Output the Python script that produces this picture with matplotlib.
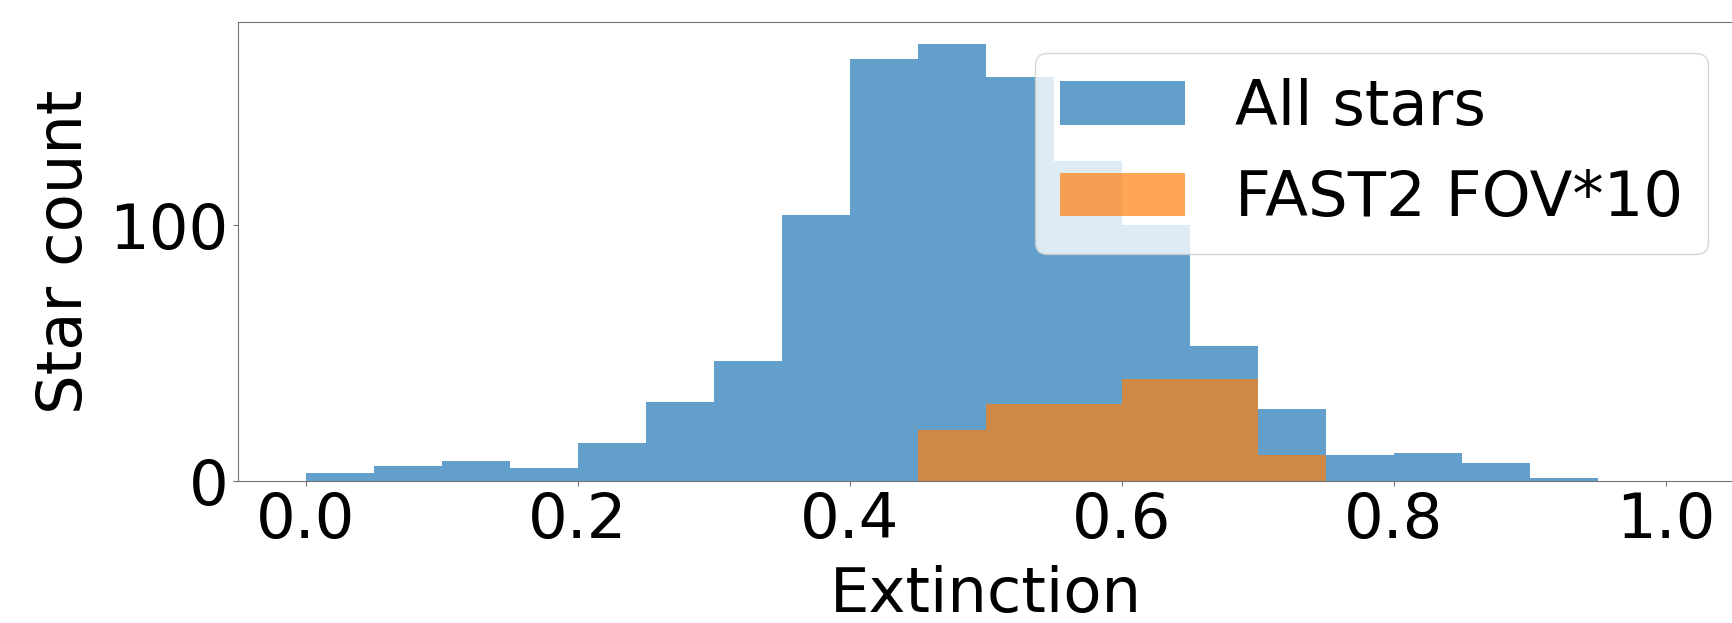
import numpy as np
import matplotlib
matplotlib.use('Agg')
import matplotlib.pyplot as plt

# Histogram bins (width 0.05)
bin_edges = np.round(np.arange(0, 1.0001, 0.05), 2)
bin_left = bin_edges[:-1]

# Counts
all_stars = [3, 6, 8, 5, 15, 31, 47, 104, 165, 171,
             158, 125, 100, 53, 28, 10, 11, 7, 1, 0]
fast2_fov10 = [0, 0, 0, 0, 0, 0, 0, 0, 0, 20,
               30, 30, 40, 40, 10, 0, 0, 0, 0, 0]

plt.rcParams['font.size'] = 45

fig = plt.figure(figsize=(17.33, 6.23), dpi=100)
ax = fig.add_axes([238 / 1733, 142 / 623, 1496 / 1733, 459 / 623])

ax.hist(bin_left, bins=bin_edges, weights=all_stars, alpha=0.7, label='All stars')
ax.hist(bin_left, bins=bin_edges, weights=fast2_fov10, alpha=0.7, label='FAST2 FOV*10')

ax.set_xticks([0.0, 0.2, 0.4, 0.6, 0.8, 1.0])
ax.set_yticks([0, 100])
ax.set_xlabel('Extinction', labelpad=10)
ax.set_ylabel('Star count', labelpad=10)

for side in ['left', 'top', 'bottom']:
    ax.spines[side].set_color('0.45')
ax.spines['right'].set_visible(False)
ax.tick_params(color='0.45')

ax.legend(loc='upper right', bbox_to_anchor=(1708 / 1733, 1 - 53 / 623),
          bbox_transform=fig.transFigure, borderaxespad=0)

fig.savefig('out.png', dpi=100)
